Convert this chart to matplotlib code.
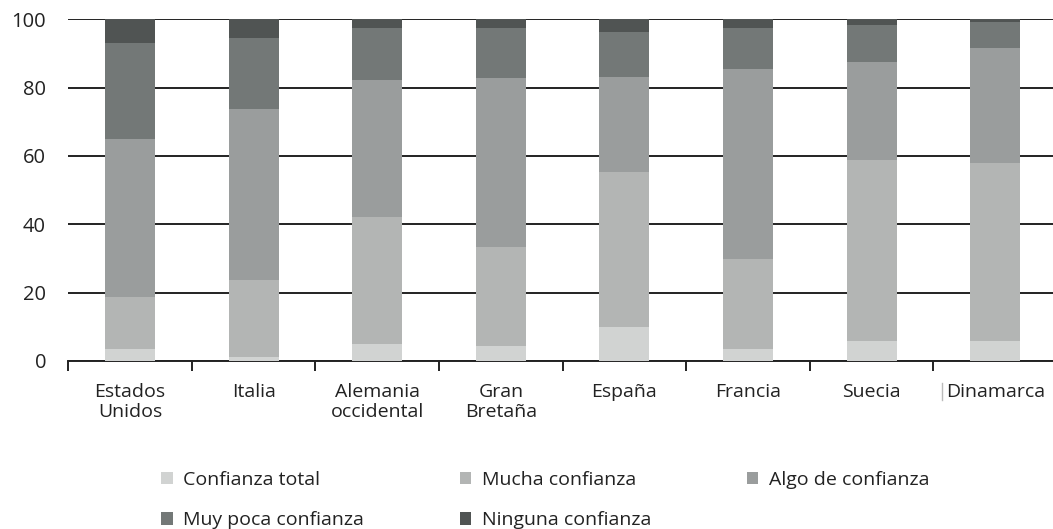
import matplotlib
matplotlib.use("Agg")
import matplotlib.pyplot as plt
from matplotlib.lines import Line2D
import numpy as np

plt.rcParams['font.family'] = ['Open Sans', 'DejaVu Sans']

countries = ["Estados\nUnidos", "Italia", "Alemania\noccidental", "Gran\nBretaña",
             "España", "Francia", "Suecia", "Dinamarca"]
series_names = ["Confianza total", "Mucha confianza", "Algo de confianza",
                "Muy poca confianza", "Ninguna confianza"]
confianza_total = [3.4, 1.3, 4.9, 4.4, 9.9, 3.4, 5.9, 5.9]
mucha_confianza = [15.2, 22.4, 37.1, 29.0, 45.4, 26.4, 52.9, 52.0]
algo_confianza = [46.5, 50.0, 40.2, 49.3, 27.9, 55.6, 28.6, 33.6]
muy_poca_confianza = [27.9, 20.9, 15.3, 14.8, 13.0, 12.1, 10.8, 7.7]
ninguna_confianza = [7.0, 5.4, 2.5, 2.5, 3.8, 2.5, 1.8, 0.8]
yticks = [0, 20, 40, 60, 80, 100]

colors = ["#d1d3d2", "#b3b5b4", "#9a9d9d", "#737877", "#505453"]

fig = plt.figure(figsize=(10.53, 5.29), dpi=100)
ax = fig.add_axes([68.3 / 1053, (529 - 361) / 529, 988.7 / 1053, (361 - 19.3) / 529])

x = np.arange(len(countries))
bottom = np.zeros(len(countries))
handles = []
for name, vals, c in zip(series_names,
                         [confianza_total, mucha_confianza, algo_confianza,
                          muy_poca_confianza, ninguna_confianza], colors):
    b = ax.bar(x, vals, width=0.405, bottom=bottom, color=c, label=name,
               edgecolor='none', zorder=3)
    handles.append(b)
    bottom += np.array(vals)

ax.set_xlim(-0.5, len(countries) - 0.5)
ax.set_ylim(0, 100)
ax.set_yticks(yticks)
ax.set_yticklabels([str(v) for v in yticks])
ax.yaxis.grid(True, color='#222222', linewidth=1.4, zorder=1)
ax.set_axisbelow(True)
for s in ['top', 'right', 'left']:
    ax.spines[s].set_visible(False)
ax.spines['bottom'].set_color('#222222')
ax.spines['bottom'].set_linewidth(1.4)

ax.set_xticks(x)
ax.set_xticklabels(countries, linespacing=1.12)
ax.set_xticks(np.arange(-0.5, len(countries), 1.0), minor=True)
ax.tick_params(axis='x', which='major', length=0, pad=16, labelsize=14, colors='#222222')
ax.tick_params(axis='x', which='minor', length=7, width=1.4, direction='out', color='#222222')
ax.tick_params(axis='y', length=0, pad=16, labelsize=14.5, colors='#222222')
for lbl in ax.get_xticklabels():
    lbl.set_verticalalignment('top')

order = [0, 3, 1, 4, 2]
leg = fig.legend([handles[i] for i in order], [series_names[i] for i in order],
                 ncol=3, loc='upper left', bbox_to_anchor=(161 / 1053, 1 - 471 / 529),
                 frameon=False, fontsize=14, handlelength=0.6, handleheight=0.6,
                 handletextpad=0.55, columnspacing=4.9, labelspacing=1.15,
                 borderpad=0, borderaxespad=0)
for t in leg.get_texts():
    t.set_color('#222222')

fig.add_artist(Line2D([941.7 / 1053, 941.7 / 1053], [1 - 383 / 529, 1 - 400 / 529],
                      color='#bbbbbb', linewidth=1))

fig.savefig("out.png", dpi=100)
